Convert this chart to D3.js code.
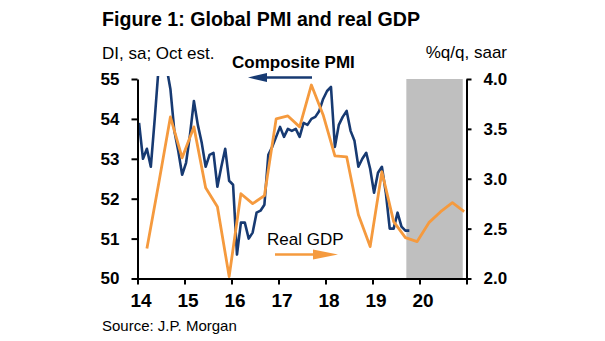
<!DOCTYPE html>
<html>
<head>
<meta charset="utf-8">
<script src="https://cdn.jsdelivr.net/npm/d3@7"></script>
<style>
  body { margin: 0; background: #fff; }
  svg { display: block; font-family: "Liberation Sans", Arial, sans-serif; }
</style>
</head>
<body>
<div id="chart"></div>
<script>
// Composite PMI, monthly, Jan 2014 - Oct 2019 (DI, sa)
var pmiStart = 2014;
var pmi = [
  53.9, 53.0, 53.25, 52.8, 54.0, 55.3, 55.6, 55.3, 54.75, 53.7, 53.2, 52.6,
  52.9, 53.6, 54.45, 53.85, 53.4, 52.8, 53.1, 53.15, 52.3, 52.8, 53.25, 52.45,
  52.35, 50.6, 51.4, 51.4, 51.0, 51.15, 51.65, 51.7, 51.85, 53.1, 53.3, 53.55,
  53.8, 53.55, 53.75, 53.7, 53.75, 53.55, 53.9, 53.85, 54.0, 54.05, 54.2, 54.5,
  54.7, 54.8, 53.3, 53.85, 54.05, 54.2, 53.7, 53.45, 52.8, 53.0, 53.15, 52.75,
  52.15, 52.65, 52.8, 52.15, 51.25, 51.25, 51.65, 51.3, 51.2, 51.2
];
// Real GDP, quarterly, 1Q14 - 4Q20 (%q/q, saar)
var gdpStart = 2014;
var gdp = [
  2.30, 2.95, 3.62, 3.21,
  3.52, 2.91, 2.72, 2.02,
  2.85, 2.75, 2.83, 3.60,
  3.63, 3.52, 3.94, 3.64,
  3.23, 3.22, 2.64, 2.32,
  3.07, 2.57, 2.41, 2.37,
  2.56, 2.67, 2.76, 2.67
];
var forecastStart = 2019.72;
var forecastEnd = 2020.92;
var xTicks = [2014, 2015, 2016, 2017, 2018, 2019, 2020, 2021];
var yLeftTicks = [50, 51, 52, 53, 54, 55];
var yRightTicks = [2.0, 2.5, 3.0, 3.5, 4.0];

var W = 605, H = 341;
var plotLeft = 137.5, plotRight = 466.5, plotTop = 79, plotBottom = 278.5;
var blue = "#173a72";
var orange = "#f59a3e";
var shade = "#bfbfbf";

var svg = d3.select("#chart").append("svg")
  .attr("width", W).attr("height", H);

var x = d3.scaleLinear().domain([2014, 2021]).range([plotLeft, plotRight]);
var yL = d3.scaleLinear().domain([50, 55]).range([plotBottom, plotTop]);
var yR = d3.scaleLinear().domain([2, 4]).range([plotBottom, plotTop]);

// points sit at the month (end-of-quarter month for GDP)
var pmiData = pmi.map(function(v, i) {
  return { t: pmiStart + (i + 0.4) / 12, v: v };
});
var gdpData = gdp.map(function(v, i) {
  return { t: gdpStart + (i * 3 + 2.4) / 12, v: v };
});

svg.append("defs").append("clipPath").attr("id", "plot")
  .append("rect")
  .attr("x", plotLeft).attr("y", plotTop - 3)
  .attr("width", plotRight - plotLeft).attr("height", plotBottom - plotTop + 6);

// forecast shading
svg.append("rect")
  .attr("x", x(forecastStart))
  .attr("y", yR(4))
  .attr("width", x(forecastEnd) - x(forecastStart))
  .attr("height", yR(2) - yR(4))
  .attr("fill", shade);

var g = svg.append("g").attr("clip-path", "url(#plot)");

g.append("path")
  .datum(pmiData)
  .attr("fill", "none")
  .attr("stroke", blue)
  .attr("stroke-width", 2.6)
  .attr("stroke-linejoin", "round")
  .attr("d", d3.line().x(d => x(d.t)).y(d => yL(d.v)));

g.append("path")
  .datum(gdpData)
  .attr("fill", "none")
  .attr("stroke", orange)
  .attr("stroke-width", 2.8)
  .attr("stroke-linejoin", "round")
  .attr("d", d3.line().x(d => x(d.t)).y(d => yR(d.v)));

// axes
function styleAxis(sel) {
  sel.selectAll("path.domain").attr("stroke", "#000").attr("stroke-width", 2);
  sel.selectAll(".tick line").attr("stroke", "#000").attr("stroke-width", 2);
  sel.selectAll("text")
    .attr("font-family", "'Liberation Sans', Arial, sans-serif")
    .attr("font-size", 17)
    .attr("font-weight", "bold")
    .attr("fill", "#000");
}

var xAxis = svg.append("g")
  .attr("transform", "translate(0," + plotBottom + ")")
  .call(d3.axisBottom(x).tickValues(xTicks).tickSize(6).tickSizeOuter(0)
    .tickPadding(9)
    .tickFormat(d => d == 2021 ? "" : String(d).slice(2)));
styleAxis(xAxis);
xAxis.selectAll("text").attr("font-size", 19).attr("dx", 3);

var yAxisL = svg.append("g")
  .attr("transform", "translate(" + plotLeft + ",0)")
  .call(d3.axisLeft(yL).tickValues(yLeftTicks).tickSize(6).tickSizeOuter(0)
    .tickPadding(12).tickFormat(d3.format("d")));
styleAxis(yAxisL);

var yAxisR = svg.append("g")
  .attr("transform", "translate(" + plotRight + ",0)")
  .call(d3.axisRight(yR).tickValues(yRightTicks).tickSize(5).tickSizeOuter(0)
    .tickPadding(12).tickFormat(d3.format(".1f")));
styleAxis(yAxisR);

// titles
svg.append("text")
  .attr("x", 102).attr("y", 26)
  .attr("font-size", 21).attr("font-weight", "bold")
  .attr("textLength", 318).attr("lengthAdjust", "spacingAndGlyphs")
  .text("Figure 1: Global PMI and real GDP");

svg.append("text")
  .attr("x", 102).attr("y", 59)
  .attr("font-size", 17)
  .text("DI, sa; Oct est.");

svg.append("text")
  .attr("x", 507).attr("y", 58)
  .attr("text-anchor", "end")
  .attr("font-size", 17)
  .text("%q/q, saar");

svg.append("text")
  .attr("x", 102).attr("y", 331)
  .attr("font-size", 15)
  .text("Source: J.P. Morgan");

// series labels with arrows
svg.append("text")
  .attr("x", 232).attr("y", 68)
  .attr("font-size", 17).attr("font-weight", "bold")
  .text("Composite PMI");

svg.append("line")
  .attr("x1", 312).attr("y1", 77.5).attr("x2", 262).attr("y2", 77.5)
  .attr("stroke", blue).attr("stroke-width", 2.5);
svg.append("path")
  .attr("d", "M248,77.5L267,73L267,82Z")
  .attr("fill", blue);

svg.append("text")
  .attr("x", 267).attr("y", 245)
  .attr("font-size", 17)
  .text("Real GDP");

svg.append("line")
  .attr("x1", 275).attr("y1", 254.5).attr("x2", 318).attr("y2", 254.5)
  .attr("stroke", orange).attr("stroke-width", 2.5);
svg.append("path")
  .attr("d", "M338,254.5L313,249.5L313,259.5Z")
  .attr("fill", orange);
</script>
</body>
</html>
